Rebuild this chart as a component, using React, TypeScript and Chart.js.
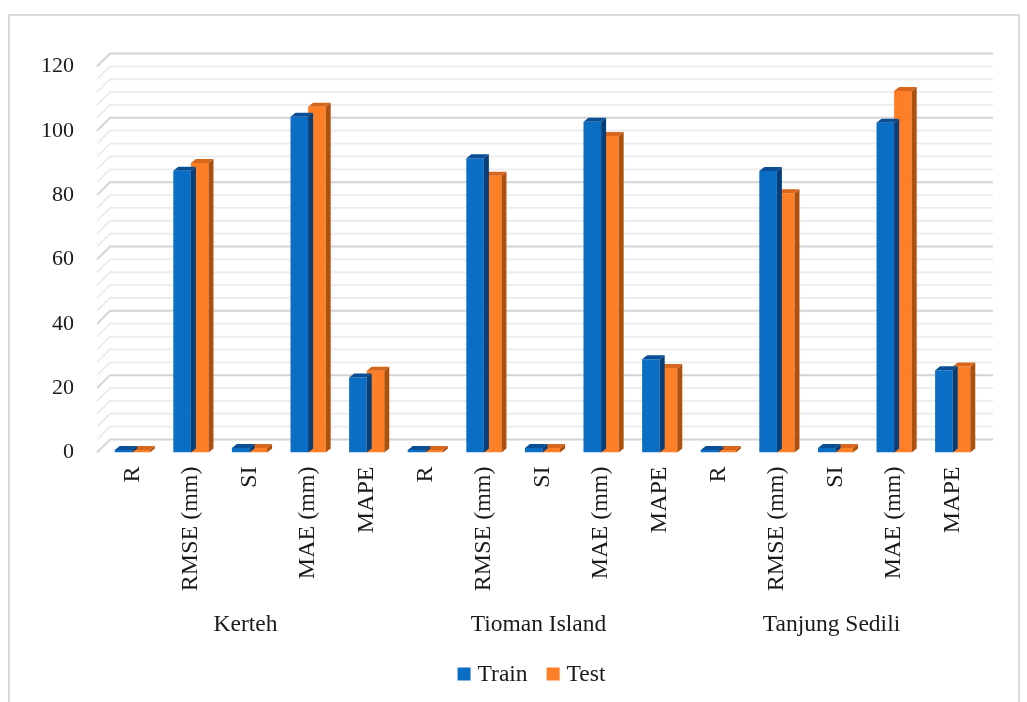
import { useEffect, useRef } from "react";
import { Chart, registerables } from "chart.js";

Chart.register(...registerables);

// Metrics reported for every station, in plotting order
const metrics = ["R", "RMSE (mm)", "SI", "MAE (mm)", "MAPE"];
const stations = ["Kerteh", "Tioman Island", "Tanjung Sedili"];
const categories = stations.flatMap(() => metrics);

const trainValues = [0.8, 87.6, 1.4, 104.4, 23.3, 0.8, 91.5, 1.4, 102.8, 29.0, 0.8, 87.5, 1.4, 102.5, 25.6];
const testValues = [0.8, 90.0, 1.4, 107.5, 25.4, 0.8, 86.0, 1.4, 98.4, 26.3, 0.8, 80.6, 1.4, 112.4, 26.7];

const yTicks = [0, 20, 40, 60, 80, 100, 120];
const minorStep = 4;

const SERIF = '"Liberation Serif", "Times New Roman", serif';
const TEXT = "#1a1a1a";

const faceColors = [
  { front: "#0B6EC5", top: "#0A4F96", side: "#083F78" },
  { front: "#FF7F27", top: "#D9661A", side: "#AE500E" },
];

// Depth of the back wall and of the column tops/sides
const WALL_DX = 13;
const WALL_DY = 13;
const BAR_DX = 5;
const BAR_DY = 4;

const wallPlugin = {
  id: "wall",
  beforeDatasetsDraw(chart: any) {
    const { ctx, chartArea } = chart;
    const y = chart.scales.y;
    const x0 = chartArea.left - 6;
    const xEnd = chartArea.right + 11;
    ctx.save();
    for (let v = 0; v <= yTicks[yTicks.length - 1]; v += minorStep) {
      const py = y.getPixelForValue(v);
      const major = yTicks.includes(v);
      ctx.strokeStyle = major ? "#d4d4d4" : "#ebebeb";
      ctx.lineWidth = major ? 2 : 1.8;
      ctx.beginPath();
      ctx.moveTo(x0, py);
      ctx.lineTo(x0 + WALL_DX, py - WALL_DY);
      ctx.lineTo(xEnd, py - WALL_DY);
      ctx.stroke();
    }
    ctx.restore();
  },
  afterDatasetDraw(chart: any, args: any) {
    const { ctx } = chart;
    const colors = faceColors[args.index];
    ctx.save();
    args.meta.data.forEach((bar: any) => {
      const { x, y, base, width } = bar.getProps(["x", "y", "base", "width"], true);
      const l = x - width / 2;
      const r = x + width / 2;
      // side face
      ctx.fillStyle = colors.side;
      ctx.beginPath();
      ctx.moveTo(r, y);
      ctx.lineTo(r + BAR_DX, y - BAR_DY);
      ctx.lineTo(r + BAR_DX, base - BAR_DY);
      ctx.lineTo(r, base);
      ctx.closePath();
      ctx.fill();
      // top face
      ctx.fillStyle = colors.top;
      ctx.beginPath();
      ctx.moveTo(l, y);
      ctx.lineTo(l + BAR_DX, y - BAR_DY);
      ctx.lineTo(r + BAR_DX, y - BAR_DY);
      ctx.lineTo(r, y);
      ctx.closePath();
      ctx.fill();
    });
    ctx.restore();
  },
  afterDraw(chart: any) {
    const { ctx, chartArea } = chart;
    const xs = chart.scales.x;
    ctx.save();
    // outer frame
    ctx.strokeStyle = "#d9d9d9";
    ctx.lineWidth = 2;
    ctx.strokeRect(9, 15, 1010, 700);

    // station names under each metric group
    ctx.fillStyle = TEXT;
    ctx.font = `23.5px ${SERIF}`;
    ctx.textAlign = "center";
    ctx.textBaseline = "middle";
    stations.forEach((name, g) => {
      const a = xs.getPixelForValue(g * metrics.length);
      const b = xs.getPixelForValue(g * metrics.length + metrics.length - 1);
      ctx.fillText(name, (a + b) / 2 - 4, 625);
    });

    // legend
    const labels = ["Train", "Test"];
    const box = 13;
    const gap = 7;
    const spacing = 19;
    const widths = labels.map((t) => ctx.measureText(t).width);
    const total = widths.reduce((s, w) => s + box + gap + w, 0) + spacing;
    let lx = (chartArea.left + chartArea.right) / 2 - 11 - total / 2;
    const ly = 674;
    ctx.textAlign = "left";
    labels.forEach((t, i) => {
      ctx.fillStyle = faceColors[i].front;
      ctx.fillRect(lx, ly - box / 2, box, box);
      lx += box + gap;
      ctx.fillStyle = TEXT;
      ctx.fillText(t, lx, ly + 1);
      lx += widths[i] + spacing;
    });
    ctx.restore();
  },
};

export default function App() {
  const ref = useRef<HTMLCanvasElement>(null);

  useEffect(() => {
    if (!ref.current) return;
    const chart = new Chart(ref.current, {
      type: "bar",
      data: {
        labels: categories,
        datasets: [
          { label: "Train", data: trainValues, backgroundColor: faceColors[0].front, borderWidth: 0 },
          { label: "Test", data: testValues, backgroundColor: faceColors[1].front, borderWidth: 0 },
        ],
      },
      options: {
        responsive: false,
        animation: false,
        layout: { padding: { top: 66.5, right: 45, left: 0, bottom: 0 } },
        plugins: { legend: { display: false }, tooltip: { enabled: false } },
        datasets: { bar: { categoryPercentage: 0.6, barPercentage: 1 } },
        scales: {
          x: {
            grid: { display: false },
            border: { display: false },
            ticks: {
              autoSkip: false,
              minRotation: 90,
              maxRotation: 90,
              padding: 6,
              color: TEXT,
              font: { family: SERIF, size: 24 },
            },
            afterFit(scale: any) {
              scale.height = 249.5;
            },
          },
          y: {
            min: 0,
            max: 120,
            grid: { display: false, drawTicks: false },
            border: { display: false },
            ticks: {
              stepSize: 20,
              padding: 29,
              color: TEXT,
              font: { family: SERIF, size: 22 },
            },
            afterFit(scale: any) {
              scale.width = 103;
            },
          },
        },
      },
      plugins: [wallPlugin],
    });
    return () => chart.destroy();
  }, []);

  return (
    <div style={{ position: "absolute", left: 0, top: 0, width: 1027, height: 702, background: "#fff" }}>
      <canvas ref={ref} width={1027} height={702} style={{ display: "block" }} />
    </div>
  );
}
